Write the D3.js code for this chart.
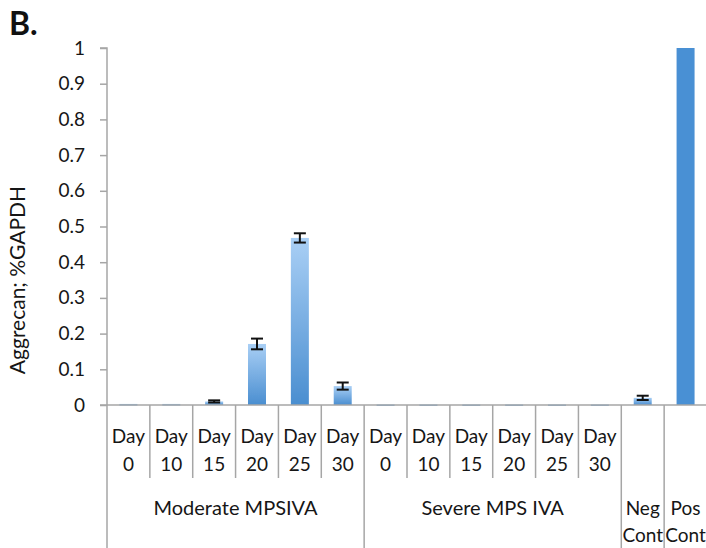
<!DOCTYPE html>
<html>
<head>
<meta charset="utf-8">
<script src="https://cdn.jsdelivr.net/npm/d3@7/dist/d3.min.js"></script>
<style>
  html, body { margin: 0; padding: 0; background: #fff; }
  svg { display: block; font-family: Lato, "Open Sans", sans-serif; }
</style>
</head>
<body>
<svg id="chart" width="706" height="548"></svg>
<script>
// Aggrecan expression (% of GAPDH) per sample
const groups = ["Moderate MPSIVA", "Severe MPS IVA", "Neg\nCont", "Pos\nCont"];
const days = ["Day\n0", "Day\n10", "Day\n15", "Day\n20", "Day\n25", "Day\n30"];
const categories = [
  { group: 0, label: days[0] }, { group: 0, label: days[1] }, { group: 0, label: days[2] },
  { group: 0, label: days[3] }, { group: 0, label: days[4] }, { group: 0, label: days[5] },
  { group: 1, label: days[0] }, { group: 1, label: days[1] }, { group: 1, label: days[2] },
  { group: 1, label: days[3] }, { group: 1, label: days[4] }, { group: 1, label: days[5] },
  { group: 2, label: "" }, { group: 3, label: "" }
];
const values = [0.003, 0.003, 0.01, 0.171, 0.468, 0.053,
                0.002, 0.002, 0.002, 0.002, 0.002, 0.002,
                0.02, 1.0];
const errors = [0, 0, 0.003, 0.015, 0.013, 0.01,
                0, 0, 0, 0, 0, 0,
                0.006, 0];
const yTicks = [0, 0.1, 0.2, 0.3, 0.4, 0.5, 0.6, 0.7, 0.8, 0.9, 1];

const svg = d3.select("#chart");
const plotL = 107, plotR = 707, plotT = 48, plotB = 405;
const gridCol = "#a6a6a6", textCol = "#161616";

const x = d3.scaleBand().domain(d3.range(categories.length)).range([plotL, plotR]).paddingInner(0).paddingOuter(0);
const y = d3.scaleLinear().domain([0, 1]).range([plotB, plotT]);

// bar gradient, light at the top and deeper blue at the base
const defs = svg.append("defs");
const grad = defs.append("linearGradient").attr("id", "barGrad")
  .attr("x1", 0).attr("y1", 0).attr("x2", 0).attr("y2", 1);
grad.append("stop").attr("offset", "0%").attr("stop-color", "#a9cff5");
grad.append("stop").attr("offset", "100%").attr("stop-color", "#4a8ed0");
defs.append("filter").attr("id", "soft").append("feGaussianBlur").attr("stdDeviation", 0.45);

// panel letter
svg.append("text").attr("x", 9).attr("y", 35).attr("font-size", 32).attr("font-weight", "bold")
  .attr("fill", "#111").text("B.");

// y axis
const yAxis = d3.axisLeft(y).tickValues(yTicks).tickSize(7).tickPadding(15)
  .tickFormat(d => d === 0 ? "0" : d === 1 ? "1" : d3.format(".1f")(d));
const gy = svg.append("g").attr("transform", `translate(${plotL},0)`).call(yAxis);
gy.select(".domain").attr("stroke", gridCol).attr("stroke-width", 1.5).attr("d", `M-7,${plotT}H0V${plotB}`);
gy.selectAll(".tick line").attr("stroke", gridCol).attr("stroke-width", 1.5);
gy.selectAll(".tick text").attr("font-size", 19).attr("fill", textCol).attr("font-family", "Lato, sans-serif");

svg.append("text")
  .attr("transform", `translate(25,280) rotate(-90)`)
  .attr("text-anchor", "middle").attr("font-size", 21).attr("fill", textCol)
  .text("Aggrecan; %GAPDH");

// bars
const bw = 18;
svg.append("g").selectAll("rect").data(values).join("rect")
  .attr("x", (d, i) => x(i) + x.bandwidth() / 2 - bw / 2)
  .attr("y", d => y(d))
  .attr("width", bw)
  .attr("height", d => Math.max(1.5, plotB - y(d)))
  .attr("fill", (d, i) => categories[i].group === 3 ? "#4a90d4" : "url(#barGrad)")
  .attr("filter", "url(#soft)");

// error bars
const eg = svg.append("g").attr("stroke", "#111").attr("stroke-width", 2);
values.forEach((v, i) => {
  if (!errors[i]) return;
  const cx = x(i) + x.bandwidth() / 2;
  const y0 = y(v + errors[i]), y1 = y(v - errors[i]);
  eg.append("line").attr("x1", cx).attr("x2", cx).attr("y1", y0).attr("y2", y1);
  eg.append("line").attr("x1", cx - 6).attr("x2", cx + 6).attr("y1", y0).attr("y2", y0);
  eg.append("line").attr("x1", cx - 6).attr("x2", cx + 6).attr("y1", y1).attr("y2", y1);
});

// x axis baseline
svg.append("line").attr("x1", plotL - 7).attr("x2", plotR).attr("y1", plotB).attr("y2", plotB)
  .attr("stroke", gridCol).attr("stroke-width", 1.5);

// category separators: short within a group, full height between groups
const sep = svg.append("g").attr("stroke", gridCol).attr("stroke-width", 1.5);
for (let i = 0; i <= categories.length; i++) {
  const xx = i < categories.length ? x(i) : plotR;
  const prev = categories[i - 1], cur = categories[i];
  const groupEdge = !prev || !cur || prev.group !== cur.group;
  sep.append("line").attr("x1", xx).attr("x2", xx)
    .attr("y1", plotB).attr("y2", groupEdge ? 548 : 478);
}

// category labels
const lab = svg.append("g").attr("font-size", 19).attr("fill", textCol).attr("text-anchor", "middle");
categories.forEach((c, i) => {
  if (!c.label) return;
  const cx = x(i) + x.bandwidth() / 2;
  c.label.split("\n").forEach((t, k) => {
    lab.append("text").attr("x", cx).attr("y", 443 + k * 28).text(t);
  });
});

// group labels
groups.forEach((g, gi) => {
  const idx = categories.map((c, i) => c.group === gi ? i : -1).filter(i => i >= 0);
  const x0 = x(idx[0]), x1 = x(idx[idx.length - 1]) + x.bandwidth();
  g.split("\n").forEach((t, k) => {
    lab.append("text").attr("x", (x0 + x1) / 2).attr("y", 515 + k * 27)
      .attr("font-size", gi < 2 ? 20 : 19).text(t);
  });
});
</script>
</body>
</html>
